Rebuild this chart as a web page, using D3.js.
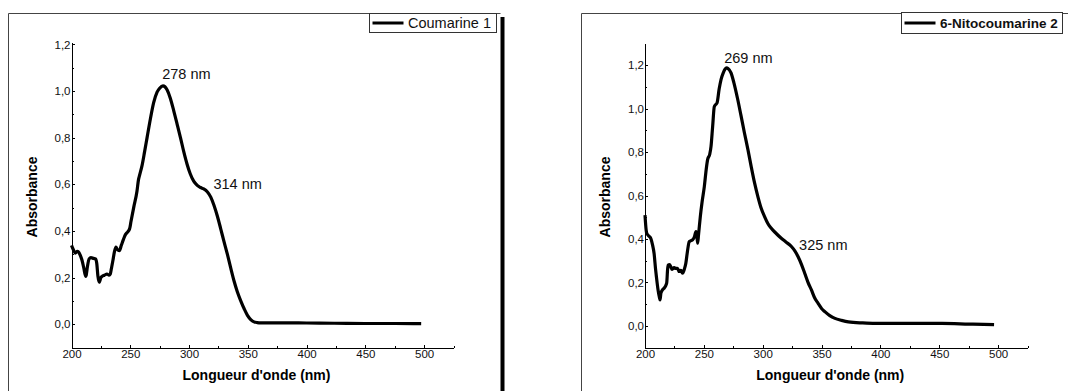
<!DOCTYPE html>
<html>
<head>
<meta charset="utf-8">
<script src="https://cdn.jsdelivr.net/npm/d3@7"></script>
<style>
  body { margin: 0; background: #fff; }
  svg { display: block; font-family: "Liberation Sans", Arial, sans-serif; }
  .axis path, .axis line { stroke: #000; stroke-width: 1; shape-rendering: crispEdges; }
  .axis text { fill: #111; font-size: 11.5px; font-family: "Liberation Sans", Arial, sans-serif; }
</style>
</head>
<body>
<div id="chart"></div>
<script>
// ---- data ----
var wavelength1 = [200, 201.5, 203.2, 205, 206, 207.5, 208.9, 210.5, 212, 212.5, 213.5, 215, 216.5, 218.8, 220.5, 221.5, 222.5, 223.6, 225, 226, 228, 230.2, 232, 233, 234, 235.3, 236.5, 237.8, 239, 240.7, 242.5, 244.3, 246, 247.7, 249.5, 250.6, 252.9, 255.7, 257, 258, 260, 262.2, 264.3, 267.1, 269.9, 272.8, 275, 277.8, 279.5, 281.3, 284, 287, 290, 292.7, 295.5, 298.4, 301, 304.1, 307, 309.8, 312.5, 315.5, 318.5, 321.2, 324, 326.9, 329.7, 332.6, 335.5, 338.3, 341, 344, 347, 349.7, 352.5, 355.3, 358, 361, 381, 400, 423.6, 450, 475, 497.5];
var absorbance1 = [0.338, 0.32, 0.305, 0.312, 0.31, 0.295, 0.275, 0.24, 0.205, 0.21, 0.245, 0.28, 0.285, 0.282, 0.28, 0.26, 0.205, 0.18, 0.2, 0.205, 0.21, 0.215, 0.21, 0.215, 0.24, 0.275, 0.31, 0.33, 0.32, 0.315, 0.34, 0.365, 0.385, 0.395, 0.41, 0.44, 0.5, 0.57, 0.62, 0.64, 0.68, 0.74, 0.8, 0.88, 0.95, 0.995, 1.012, 1.022, 1.018, 1.005, 0.97, 0.915, 0.855, 0.8, 0.74, 0.685, 0.645, 0.612, 0.595, 0.586, 0.58, 0.568, 0.545, 0.51, 0.465, 0.41, 0.355, 0.3, 0.24, 0.185, 0.14, 0.1, 0.065, 0.038, 0.02, 0.01, 0.007, 0.006, 0.006, 0.005, 0.004, 0.003, 0.003, 0.002];

var wavelength2 = [200, 201, 201.5, 203, 204.9, 206.5, 207.7, 209, 209.7, 211.1, 212.3, 212.8, 213.5, 214.8, 216.5, 218, 218.5, 219.2, 219.7, 220.8, 221.9, 223, 224.8, 226, 227.6, 229, 230.5, 231.9, 233.5, 234.7, 236, 237.6, 239, 240.4, 242, 243.3, 244, 244.7, 245.5, 247, 248.5, 250.4, 252, 253.2, 255, 256.1, 257.5, 258.9, 260.3, 261.2, 263, 264.6, 266.5, 268, 269.4, 270.5, 273.1, 275.5, 278.8, 281.5, 284.5, 287.5, 290.2, 293, 295.9, 298.5, 301.6, 304.5, 307.3, 311.5, 315.8, 320, 324.4, 327.3, 330.1, 333, 335.7, 338.5, 341.4, 344, 347.1, 350, 352.8, 357, 361.4, 367, 372.8, 385, 395.5, 420, 452.4, 475, 496.6];
var absorbance2 = [0.51, 0.44, 0.426, 0.415, 0.403, 0.37, 0.334, 0.26, 0.226, 0.165, 0.13, 0.119, 0.15, 0.165, 0.175, 0.19, 0.2, 0.26, 0.28, 0.282, 0.272, 0.26, 0.268, 0.264, 0.265, 0.25, 0.255, 0.242, 0.262, 0.288, 0.34, 0.388, 0.392, 0.396, 0.41, 0.434, 0.42, 0.38, 0.42, 0.503, 0.57, 0.641, 0.72, 0.765, 0.79, 0.826, 0.92, 1.01, 1.02, 1.026, 1.09, 1.134, 1.165, 1.182, 1.188, 1.185, 1.165, 1.12, 1.042, 0.97, 0.888, 0.81, 0.734, 0.66, 0.595, 0.545, 0.503, 0.47, 0.449, 0.425, 0.403, 0.385, 0.365, 0.345, 0.318, 0.282, 0.242, 0.2, 0.165, 0.13, 0.103, 0.08, 0.065, 0.047, 0.034, 0.025, 0.018, 0.013, 0.011, 0.011, 0.011, 0.008, 0.005];

var xTicks = [200, 250, 300, 350, 400, 450, 500];
var xMinorTicks = [225, 275, 325, 375, 425, 475, 525];
var yTicks = [0, 0.2, 0.4, 0.6, 0.8, 1.0, 1.2];
var yMinorTicks = [-0.1, 0.1, 0.3, 0.5, 0.7, 0.9, 1.1];

var legend1 = "Coumarine 1";
var legend2 = "6-Nitocoumarine 2";
var peaks1 = [{ wl: 278, a: 1.022, label: "278 nm", dx: -1, dy: -7 }, { wl: 314, a: 0.572, label: "314 nm", dx: 8, dy: -2 }];
var peaks2 = [{ wl: 269, a: 1.188, label: "269 nm", dx: -2, dy: -5 }, { wl: 325, a: 0.362, label: "325 nm", dx: 7, dy: 3 }];

var xTitle = "Longueur d'onde (nm)";
var yTitle = "Absorbance";

var fr = d3.formatLocale({ decimal: ",", thousands: " ", grouping: [3], currency: ["", ""] });
var fmt = fr.format(".1f");

var svg = d3.select("#chart").append("svg")
    .attr("width", 1068)
    .attr("height", 391);

// frames round the two panels
svg.append("path")
    .attr("d", "M8.5,400 V13.5 H500.5")
    .attr("fill", "none").attr("stroke", "#444").attr("stroke-width", 1);
svg.append("rect")
    .attr("x", 500.5).attr("y", 17).attr("width", 4).attr("height", 380)
    .attr("fill", "#000");
svg.append("path")
    .attr("d", "M581.5,400 V13.5 H1070")
    .attr("fill", "none").attr("stroke", "#444").attr("stroke-width", 1);

function drawPanel(cfg) {
    var x = d3.scaleLinear().domain([200, 525]).range([cfg.left, cfg.right]);
    var y = d3.scaleLinear().domain(cfg.yDomain).range([cfg.bottom, cfg.top]);

    var g = svg.append("g");

    // minor ticks
    g.append("g")
        .attr("class", "axis")
        .attr("transform", "translate(0," + cfg.bottom + ")")
        .call(d3.axisBottom(x).tickValues(xMinorTicks).tickSize(-2).tickFormat(""))
        .select(".domain").remove();
    g.append("g")
        .attr("class", "axis")
        .attr("transform", "translate(" + cfg.left + ",0)")
        .call(d3.axisLeft(y).tickValues(yMinorTicks).tickSize(-2).tickFormat(""))
        .select(".domain").remove();

    // main axes
    g.append("g")
        .attr("class", "axis")
        .attr("transform", "translate(0," + cfg.bottom + ")")
        .call(d3.axisBottom(x).tickValues(xTicks).tickSize(-3).tickSizeOuter(0).tickPadding(2))
        .selectAll("text").attr("dy", "0.75em");
    g.append("g")
        .attr("class", "axis")
        .attr("transform", "translate(" + cfg.left + ",0)")
        .call(d3.axisLeft(y).tickValues(yTicks).tickSize(-3).tickSizeOuter(0).tickPadding(1).tickFormat(fmt));

    // axis titles
    g.append("text")
        .attr("x", (cfg.left + cfg.right) / 2 - 6)
        .attr("y", cfg.xTitleY)
        .attr("text-anchor", "middle")
        .attr("font-size", "14px")
        .attr("font-weight", "bold")
        .text(xTitle);
    g.append("text")
        .attr("transform", "translate(" + cfg.yTitleX + "," + cfg.yTitleMid + ") rotate(-90)")
        .attr("text-anchor", "middle")
        .attr("font-size", "14px")
        .attr("font-weight", "bold")
        .text(yTitle);

    // spectrum
    var line = d3.line()
        .x(function (d) { return x(d[0]); })
        .y(function (d) { return y(d[1]); })
        .curve(d3.curveMonotoneX);
    g.append("path")
        .datum(d3.zip(cfg.wl, cfg.abs))
        .attr("fill", "none")
        .attr("stroke", "#000")
        .attr("stroke-width", 3.2)
        .attr("stroke-linejoin", "round")
        .attr("d", line);

    // peak labels
    g.selectAll(".peak")
        .data(cfg.peaks)
        .enter().append("text")
        .attr("x", function (d) { return x(d.wl) + d.dx; })
        .attr("y", function (d) { return y(d.a) + d.dy; })
        .attr("font-size", "14.5px")
        .attr("fill", "#111")
        .text(function (d) { return d.label; });

    // legend
    var lg = cfg.legend;
    g.append("rect")
        .attr("x", lg.x).attr("y", lg.y).attr("width", lg.w).attr("height", lg.h)
        .attr("fill", "#fff").attr("stroke", "#333").attr("stroke-width", 1);
    g.append("line")
        .attr("x1", lg.x + 3).attr("x2", lg.x + 34)
        .attr("y1", lg.y + lg.h / 2).attr("y2", lg.y + lg.h / 2)
        .attr("stroke", "#000").attr("stroke-width", 3);
    g.append("text")
        .attr("x", lg.x + 38.5)
        .attr("y", lg.y + lg.h / 2 + 5)
        .attr("font-size", lg.size)
        .attr("font-weight", lg.weight)
        .attr("fill", "#111")
        .text(lg.text);
}

drawPanel({
    wl: wavelength1, abs: absorbance1, peaks: peaks1,
    left: 71.5, right: 453.5, top: 42, bottom: 347.5,
    yDomain: [-0.1, 1.21],
    xTitleY: 380, yTitleX: 37, yTitleMid: 197,
    legend: { x: 369.5, y: 13.5, w: 127, h: 19, text: legend1, size: "14.5px", weight: "normal" }
});

drawPanel({
    wl: wavelength2, abs: absorbance2, peaks: peaks2,
    left: 645, right: 1027.5, top: 43.5, bottom: 347.5,
    yDomain: [-0.1, 1.3],
    xTitleY: 380, yTitleX: 610, yTitleMid: 197,
    legend: { x: 901.5, y: 12.5, w: 161, h: 21, text: legend2, size: "13.5px", weight: "bold" }
});
</script>
</body>
</html>
